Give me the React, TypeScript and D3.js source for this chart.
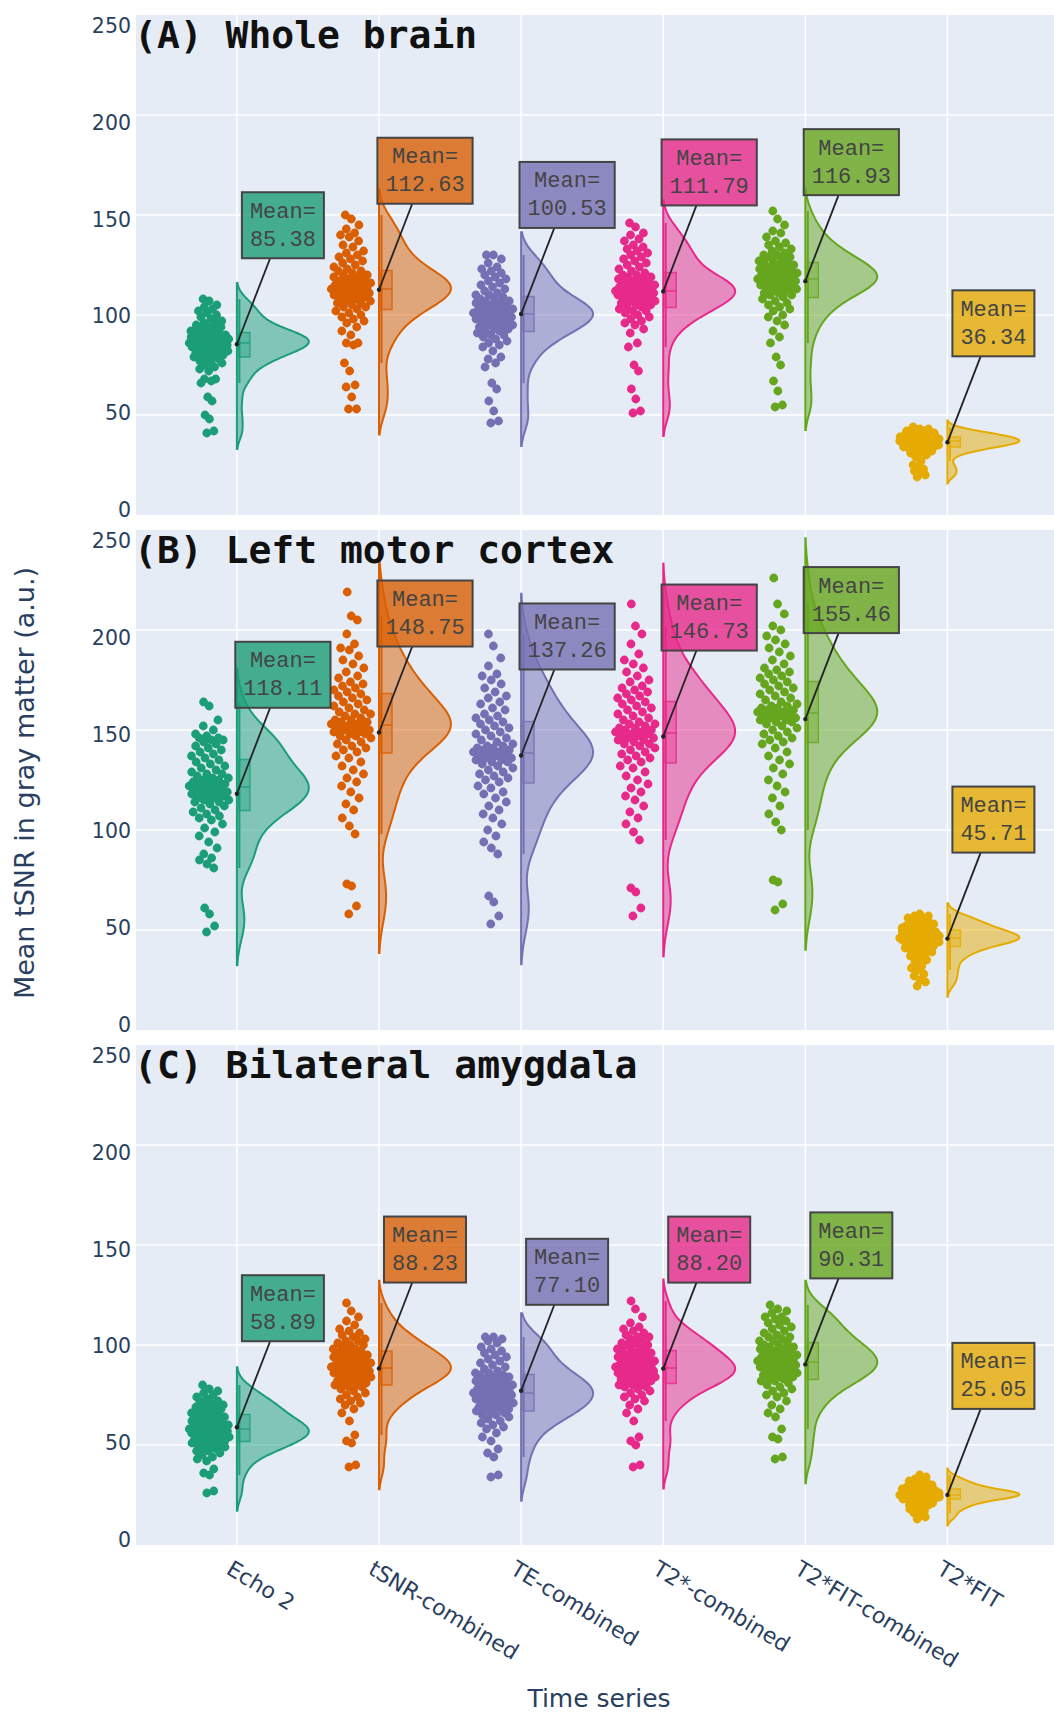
import * as d3 from 'd3'

const categories = ['Echo 2', 'tSNR-combined', 'TE-combined', 'T2*-combined', 'T2*FIT-combined', 'T2*FIT']
const colors = ['#1b9e77', '#d95f02', '#7570b3', '#e7298a', '#66a61e', '#e6ab02']
const panelTitles = ['(A) Whole brain', '(B) Left motor cortex', '(C) Bilateral amygdala']
const yTicks = [0, 50, 100, 150, 200, 250]

const meansA = [85.38, 112.63, 100.53, 111.79, 116.93, 36.34]
const meansB = [118.11, 148.75, 137.26, 146.73, 155.46, 45.71]
const meansC = [58.89, 88.23, 77.1, 88.2, 90.31, 25.05]

// (A) whole brain
const brainEcho2 = [41, 42, 48, 50, 57, 59, 66, 67, 68, 68,
  72, 73, 74, 75, 76, 76, 77, 78, 78, 79, 79, 80, 80, 81, 81, 82, 82, 82, 83, 83, 83, 84, 84, 84,
  85, 85, 85, 85, 86, 86, 86, 86, 87, 87, 87, 87, 88, 88, 88, 88, 89, 89, 89, 89, 90, 90, 90,
  91, 91, 91, 92, 92, 93, 93, 94, 94, 95, 96, 96, 97, 98, 99, 100, 101,
  102, 103, 104, 105, 107, 108]
const brainTsnr = [53, 53, 59, 64, 65, 72, 76, 85, 86, 86,
  90, 92, 94, 96, 97, 98, 99, 100, 101, 102, 103, 104, 104, 105, 106, 106, 107, 107, 108, 108,
  109, 109, 110, 110, 111, 111, 112, 112, 113, 113, 113, 114, 114, 114, 115, 115, 115, 116, 116, 117,
  117, 118, 118, 119, 119, 120, 120, 121, 122, 122, 123, 124, 125, 126, 127, 128, 129, 130, 131, 132,
  134, 135, 137, 139, 140, 141, 143, 145, 148, 150]
const brainTe = [46, 47, 52, 57, 63, 66, 74, 76, 78, 79,
  82, 84, 85, 86, 87, 88, 89, 90, 90, 91, 92, 92, 93, 93, 94, 94, 95, 95, 96, 96,
  97, 97, 98, 98, 99, 99, 99, 100, 100, 100, 101, 101, 101, 102, 102, 102, 103, 103, 103, 104,
  104, 105, 105, 106, 106, 107, 107, 108, 108, 109, 110, 110, 111, 112, 113, 114, 115, 116, 117, 118,
  119, 120, 121, 122, 123, 124, 126, 128, 130, 130]
const brainT2s = [51, 52, 58, 63, 72, 75, 84, 86,
  91, 93, 95, 96, 97, 98, 99, 100, 101, 102, 102, 103, 104, 104, 105, 105, 106, 106, 107, 107,
  108, 108, 109, 109, 110, 110, 110, 111, 111, 111, 112, 112, 112, 113, 113, 113, 114, 114, 114, 115,
  115, 116, 116, 117, 117, 118, 118, 119, 119, 120, 120, 121, 122, 123, 124, 125, 126, 127, 128, 129,
  130, 131, 132, 133, 134, 135, 137, 138, 140, 141, 144, 146]
const brainT2fitComb = [54, 55, 62, 67, 75, 79, 86,
  89, 92, 95, 97, 99, 100, 102, 103, 104, 105, 106, 107, 108, 109, 110, 110, 111, 111, 112, 112,
  113, 113, 114, 114, 115, 115, 116, 116, 117, 117, 117, 118, 118, 118, 119, 119, 119, 120, 120, 120,
  121, 121, 121, 122, 122, 123, 123, 124, 124, 125, 125, 126, 126, 127, 127, 128, 129, 129, 130, 130,
  131, 132, 133, 134, 135, 136, 137, 139, 141, 142, 145, 148, 152]
const brainT2fit = [19, 20, 21, 22, 23, 24, 25, 27, 29, 30,
  31, 31, 32, 32, 32, 33, 33, 33, 33, 34, 34, 34, 34, 34, 35, 35, 35, 35, 35, 35,
  35, 36, 36, 36, 36, 36, 36, 36, 36, 37, 37, 37, 37, 37, 37, 37, 37, 37, 38, 38,
  38, 38, 38, 38, 38, 38, 39, 39, 39, 39, 39, 39, 39, 40, 40, 40, 40, 40, 40, 41,
  41, 41, 41, 41, 42, 42, 42, 43, 43, 44]

// (B) left motor cortex
const motorEcho2 = [49, 52, 58, 61, 81, 83, 85, 86,
  88, 91, 94, 97, 99, 101, 103, 105, 106, 107, 108, 109, 110, 111, 112, 113, 114, 114, 115, 115,
  116, 116, 117, 117, 118, 118, 119, 119, 120, 120, 121, 121, 122, 122, 123, 123, 124, 124, 125, 125,
  126, 126, 127, 128, 128, 129, 130, 131, 132, 133, 134, 135, 136, 137, 138, 139, 140, 141, 142, 143,
  144, 145, 145, 146, 146, 147, 148, 150, 152, 155, 162, 164]
const motorTsnr = [58, 62, 72, 73,
  98, 102, 106, 110, 113, 116, 119, 122, 124, 126, 128, 130, 132, 134, 136, 137, 139, 140, 141, 142,
  143, 144, 145, 146, 147, 147, 148, 148, 149, 149, 150, 150, 151, 151, 152, 152, 153, 153, 154, 154,
  155, 155, 156, 157, 158, 158, 159, 160, 161, 162, 163, 164, 165, 166, 167, 168, 169, 170, 171, 172,
  173, 174, 176, 177, 179, 181, 183, 185, 187, 190, 191, 193, 198, 205, 207, 219]
const motorTe = [53, 57, 64, 67,
  88, 91, 94, 97, 100, 103, 106, 108, 110, 112, 114, 116, 118, 119, 121, 122, 124, 125, 126, 127,
  128, 129, 130, 131, 132, 133, 134, 134, 135, 135, 136, 136, 137, 137, 138, 138, 139, 139, 140, 140,
  141, 141, 142, 142, 143, 144, 145, 146, 147, 148, 149, 150, 151, 152, 153, 154, 155, 156, 157, 158,
  160, 161, 163, 164, 166, 167, 169, 171, 173, 175, 177, 178, 182, 186, 192, 198]
const motorT2s = [57, 61, 69, 71,
  95, 99, 103, 106, 109, 112, 115, 117, 119, 121, 123, 125, 127, 129, 131, 132, 134, 135, 136, 137,
  138, 139, 140, 141, 142, 143, 143, 144, 145, 145, 146, 146, 147, 147, 148, 148, 149, 149, 150, 150,
  151, 151, 152, 153, 153, 154, 155, 156, 157, 158, 159, 160, 161, 162, 163, 164, 165, 166, 167, 168,
  169, 170, 171, 172, 174, 175, 177, 179, 181, 183, 185, 188, 193, 198, 202, 213]
const motorT2fitComb = [60, 63, 74, 75,
  100, 104, 108, 112, 116, 119, 122, 125, 128, 131, 133, 135, 137, 139, 141, 143, 144, 145, 146, 147,
  148, 149, 150, 151, 152, 153, 154, 154, 155, 155, 156, 156, 157, 157, 158, 158, 159, 159, 160, 160,
  161, 161, 162, 162, 163, 164, 165, 166, 167, 168, 169, 170, 171, 172, 173, 174, 175, 176, 177, 178,
  179, 180, 181, 183, 185, 187, 189, 191, 193, 195, 197, 200, 202, 208, 213, 226]
const motorT2fit = [22, 24, 25, 27, 28, 30, 31, 32, 34, 35,
  36, 37, 38, 38, 39, 39, 40, 40, 41, 41, 42, 42, 42, 43, 43, 43, 44, 44, 44, 44,
  44, 45, 45, 45, 45, 45, 45, 46, 46, 46, 46, 46, 46, 47, 47, 47, 47, 47, 47, 48,
  48, 48, 48, 49, 49, 49, 49, 50, 50, 50, 50, 51, 51, 51, 52, 52, 52, 53, 53, 53,
  54, 54, 55, 55, 56, 56, 57, 57, 58, 46]

// (C) bilateral amygdala
const amygEcho2 = [26, 27, 35, 36, 38,
  42, 43, 44, 45, 46, 47, 47, 48, 48, 49, 49, 50, 50, 51, 51, 52, 52, 52, 53, 53,
  53, 54, 54, 54, 55, 55, 55, 56, 56, 56, 57, 57, 57, 57, 58, 58, 58, 58, 59, 59,
  59, 60, 60, 60, 61, 61, 61, 62, 62, 63, 63, 64, 64, 65, 65, 66, 66, 67, 67, 68,
  68, 69, 69, 70, 70, 71, 72, 72, 73, 74, 75, 76, 77, 78, 80]
const amygTsnr = [39, 40, 51, 52, 55, 62,
  66, 68, 70, 71, 72, 73, 74, 75, 76, 77, 78, 79, 79, 80, 80, 81, 81, 82, 82, 83,
  83, 84, 84, 85, 85, 86, 86, 86, 87, 87, 87, 88, 88, 88, 89, 89, 89, 90, 90, 90,
  91, 91, 91, 92, 92, 93, 93, 94, 94, 95, 95, 96, 96, 97, 97, 98, 98, 99, 100, 100,
  101, 102, 102, 103, 104, 105, 106, 107, 108, 110, 112, 114, 117, 121]
const amygTe = [34, 35, 44, 46, 48,
  52, 54, 56, 58, 59, 60, 61, 62, 63, 64, 65, 65, 66, 66, 67, 67, 68, 68, 69, 69,
  70, 70, 71, 71, 72, 72, 73, 73, 74, 74, 75, 75, 75, 76, 76, 76, 77, 77, 77, 78,
  78, 79, 79, 80, 80, 81, 81, 82, 82, 83, 83, 84, 84, 85, 85, 86, 86, 87, 88, 89,
  90, 91, 92, 93, 94, 95, 96, 97, 98, 99, 101, 102, 103, 104, 104]
const amygT2s = [39, 40, 50, 52, 54, 62,
  66, 68, 70, 72, 73, 74, 75, 76, 77, 78, 79, 79, 80, 80, 81, 81, 82, 82, 83, 83,
  84, 84, 85, 85, 85, 86, 86, 86, 87, 87, 87, 88, 88, 88, 89, 89, 89, 90, 90, 90,
  91, 91, 92, 92, 93, 93, 94, 94, 95, 95, 96, 96, 97, 97, 98, 98, 99, 100, 100, 101,
  101, 102, 103, 104, 104, 105, 106, 107, 108, 109, 111, 114, 118, 122]
const amygT2fitComb = [43, 44, 53, 54, 58,
  64, 66, 68, 70, 72, 74, 75, 76, 77, 78, 79, 80, 81, 82, 82, 83, 83, 84, 84, 85,
  85, 86, 86, 87, 87, 88, 88, 89, 89, 90, 90, 90, 91, 91, 91, 92, 92, 92, 93, 93,
  94, 94, 95, 95, 96, 96, 97, 97, 98, 98, 99, 99, 100, 100, 101, 102, 102, 103, 104, 104,
  105, 106, 107, 108, 109, 110, 111, 112, 113, 114, 114, 116, 117, 118, 120]
const amygT2fit = [13, 14, 15, 16, 17, 18, 18, 19, 19, 20,
  20, 20, 21, 21, 21, 22, 22, 22, 22, 23, 23, 23, 23, 23, 23, 24, 24, 24, 24, 24,
  24, 24, 24, 25, 25, 25, 25, 25, 25, 25, 25, 25, 25, 26, 26, 26, 26, 26, 26, 26,
  26, 27, 27, 27, 27, 27, 27, 27, 28, 28, 28, 28, 28, 29, 29, 29, 29, 30, 30, 30,
  31, 31, 31, 32, 32, 33, 33, 34, 35, 26]

const panels = [
  { title: panelTitles[0], means: meansA, groups: [brainEcho2, brainTsnr, brainTe, brainT2s, brainT2fitComb, brainT2fit] },
  { title: panelTitles[1], means: meansB, groups: [motorEcho2, motorTsnr, motorTe, motorT2s, motorT2fitComb, motorT2fit] },
  { title: panelTitles[2], means: meansC, groups: [amygEcho2, amygTsnr, amygTe, amygT2s, amygT2fitComb, amygT2fit] }
]

const W = 1054
const H = 1715
const plotLeft = 136
const plotRight = 1054
const panelTops = [15, 530, 1045]
const panelH = 500
const violinWidth = 72
const axisColor = '#2a3f5f'

const x = d3.scaleLinear().domain([-0.71, 5.75]).range([plotLeft, plotRight])

// gaussian kde, silverman-ish bandwidth like plotly
function kde(values: number[]) {
  const sorted = values.slice().sort(d3.ascending)
  const n = sorted.length
  const sd = d3.deviation(sorted) || 1
  const iqr = (d3.quantile(sorted, 0.75) as number) - (d3.quantile(sorted, 0.25) as number)
  const bw = 1.059 * Math.min(sd, iqr / 1.349 || sd) * Math.pow(n, -0.2)
  const density = (g: number) => d3.mean(sorted, (v) => Math.exp(-0.5 * ((g - v) / bw) ** 2)) as number
  const lo = sorted[0] - 2 * bw
  const hi = sorted[n - 1] + 2 * bw
  const grid = d3.range(0, 121).map((k) => lo + ((hi - lo) * k) / 120)
  const pts = grid.map((g) => ({ v: g, d: density(g) }))
  const max = d3.max(pts, (p) => p.d) as number
  return { pts, max, density, sorted }
}

const Panel = ({ idx }: { idx: number }) => {
  const top = panelTops[idx]
  const panel = panels[idx]
  const y = d3.scaleLinear().domain([0, 250]).range([top + panelH, top])
  const labelY = d3.scaleLinear().domain([0, 250]).range([top + 495, top + 11])

  return (
    <g>
      <rect x={plotLeft} y={top} width={plotRight - plotLeft} height={panelH} fill='#e5ecf6' />
      {[50, 100, 150, 200].map((t) => (
        <line key={t} x1={plotLeft} x2={plotRight} y1={y(t)} y2={y(t)} stroke='white' strokeWidth={1.5} />
      ))}
      {categories.map((c, i) => (
        <line key={c} x1={x(i)} x2={x(i)} y1={top} y2={top + panelH} stroke='white' strokeWidth={1.5} />
      ))}
      {yTicks.map((t) => (
        <text key={t} x={131} y={labelY(t)} textAnchor='end' dominantBaseline='central'
          fontFamily='DejaVu Sans, Verdana, sans-serif' fontSize={20.5} fill={axisColor}>
          {t}
        </text>
      ))}
      <clipPath id={'clip' + idx}>
        <rect x={plotLeft} y={top} width={plotRight - plotLeft} height={panelH} />
      </clipPath>
      <g clipPath={`url(#clip${idx})`}>
        {panel.groups.map((vals, i) => {
          const k = kde(vals)
          const cx = x(i)
          const area = d3
            .area<{ v: number; d: number }>()
            .y((p) => y(p.v))
            .x0(cx)
            .x1((p) => cx + (violinWidth * p.d) / k.max)
            .curve(d3.curveBasis)
          const q1 = d3.quantile(k.sorted, 0.25) as number
          const med = d3.quantile(k.sorted, 0.5) as number
          const q3 = d3.quantile(k.sorted, 0.75) as number
          const iqr = q3 - q1
          const lf = d3.min(k.sorted.filter((v) => v >= q1 - 1.5 * iqr)) as number
          const uf = d3.max(k.sorted.filter((v) => v <= q3 + 1.5 * iqr)) as number
          return (
            <g key={i}>
              <path d={area(k.pts) || ''} fill={colors[i]} fillOpacity={0.5} stroke={colors[i]} strokeWidth={2} />
              <line x1={cx + 2.5} x2={cx + 2.5} y1={y(lf)} y2={y(uf)} stroke={colors[i]} strokeWidth={2} />
              <rect x={cx + 2} y={y(q3)} width={11} height={y(q1) - y(q3)} fill={colors[i]} fillOpacity={0.35}
                stroke={colors[i]} strokeOpacity={0.8} strokeWidth={1.5} />
              <line x1={cx + 2} x2={cx + 13} y1={y(med)} y2={y(med)} stroke={colors[i]} strokeOpacity={0.8} strokeWidth={1.5} />
              {vals.map((v, j) => {
                const u = ((j * 0.6180339887 + 0.31) % 1) * 2 - 1
                const px = cx - 28 + u * 21 * Math.sqrt(k.density(v) / k.max)
                return <circle key={j} cx={px} cy={y(v)} r={4.4} fill={colors[i]} />
              })}
            </g>
          )
        })}
      </g>
      {panel.means.map((m, i) => {
        const tx = x(i)
        const ty = y(m)
        const bx = tx + 46
        const by = ty - 119
        const label = m.toFixed(2)
        const bw = 13.2 * Math.max(5, label.length) + 16
        const bh = 66
        // stop the leader line at the bottom edge of the label box
        const ey = by + bh / 2
        const ex = tx + ((bx - tx) * (ty - ey)) / (ty - by)
        return (
          <g key={'ann' + i}>
            <line x1={tx} y1={ty} x2={ex} y2={ey} stroke='#222' strokeWidth={1.8} />
            <circle cx={tx} cy={ty} r={2.2} fill='#222' />
            <rect x={bx - bw / 2} y={by - bh / 2} width={bw} height={bh} fill={colors[i]} fillOpacity={0.8}
              stroke='#444' strokeWidth={2} />
            <text x={bx} y={by - 13} textAnchor='middle' dominantBaseline='central'
              fontFamily='Liberation Mono, monospace' fontSize={22} fill='#444'>
              Mean=
            </text>
            <text x={bx} y={by + 15} textAnchor='middle' dominantBaseline='central'
              fontFamily='Liberation Mono, monospace' fontSize={22} fill='#444'>
              {label}
            </text>
          </g>
        )
      })}
      <text x={134} y={top + 33} fontFamily='DejaVu Sans Mono, monospace' fontSize={38} fontWeight='bold' fill='#111'>
        {panel.title}
      </text>
    </g>
  )
}

export default function App() {
  return (
    <svg width={W} height={H} style={{ position: 'absolute', left: 0, top: 0, background: 'white' }}>
      <rect width={W} height={H} fill='white' />
      {panels.map((p, i) => (
        <Panel key={i} idx={i} />
      ))}
      {categories.map((c, i) => (
        <text key={c} transform={`translate(${x(i) - 12},1573) rotate(31)`}
          fontFamily='DejaVu Sans, Verdana, sans-serif' fontSize={22} fill={axisColor}>
          {c}
        </text>
      ))}
      <text x={599} y={1698} textAnchor='middle' dominantBaseline='central'
        fontFamily='DejaVu Sans, Verdana, sans-serif' fontSize={25} fill={axisColor}>
        Time series
      </text>
      <text transform='translate(24,783) rotate(-90)' textAnchor='middle' dominantBaseline='central'
        fontFamily='DejaVu Sans, Verdana, sans-serif' fontSize={27} fill={axisColor}>
        Mean tSNR in gray matter (a.u.)
      </text>
    </svg>
  )
}
